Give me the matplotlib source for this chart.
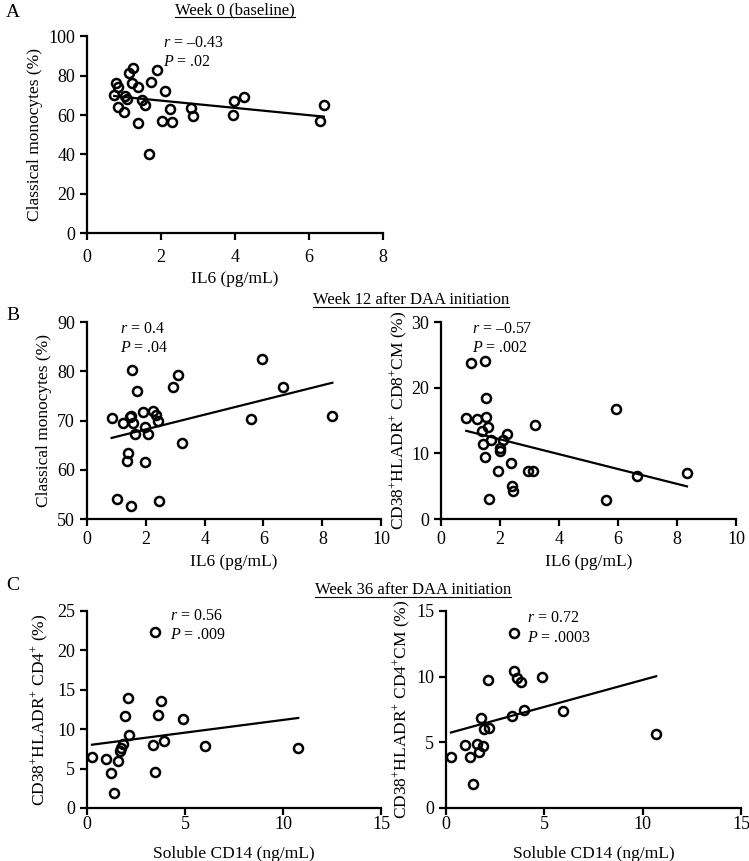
import numpy as np
import matplotlib
matplotlib.use("Agg")
import matplotlib.pyplot as plt
from matplotlib.lines import Line2D

plt.rcParams['font.family'] = ['Liberation Serif', 'DejaVu Serif']
plt.rcParams['mathtext.fontset'] = 'custom'
plt.rcParams['mathtext.rm'] = 'Liberation Serif'
plt.rcParams['mathtext.it'] = 'Liberation Serif:italic'
plt.rcParams['font.size'] = 12.5

# Week 0 (baseline): IL6 vs classical monocytes
wk0_il6 = [1.24, 1.15, 1.89, 0.79, 0.83, 1.23, 1.39, 1.74, 2.10, 0.74, 1.02, 1.08,
           1.49, 1.58, 0.83, 1.01, 1.39, 2.03, 2.30, 2.25, 2.81, 2.86, 1.69,
           3.97, 3.95, 4.26, 6.31, 6.41]
wk0_mono = [83.9, 81.1, 82.8, 76.0, 74.3, 76.0, 74.0, 76.8, 72.1, 70.1, 69.7, 67.9,
            67.6, 65.0, 64.2, 61.6, 56.1, 56.9, 56.6, 63.0, 63.4, 59.5, 40.0,
            67.2, 60.0, 69.1, 56.9, 65.0]

# Week 12 after DAA initiation
wk12_il6_a = [0.84, 1.01, 1.23, 1.37, 1.41, 1.45, 1.49, 1.50, 1.52, 1.56, 1.62, 1.69, 1.92,
              1.97, 1.98, 2.09, 2.24, 2.34, 2.40, 2.45, 2.92, 3.09, 3.22, 5.59, 5.94, 6.65, 8.34]
wk12_mono = [70.5, 54.0, 69.6, 61.8, 63.5, 70.8, 52.7, 71.0, 80.3, 69.6, 67.2, 76.1, 71.7,
             61.6, 68.7, 67.3, 71.9, 71.1, 70.0, 53.7, 76.9, 79.2, 65.5, 70.4, 82.5, 76.9, 71.0]
wk12_il6_b = [0.85, 1.01, 1.23, 1.37, 1.41, 1.48, 1.48, 1.51, 1.53, 1.58, 1.62, 1.69, 1.92,
              1.98, 2.01, 2.09, 2.24, 2.36, 2.40, 2.45, 2.94, 3.10, 3.19, 5.58, 5.92, 6.62, 8.33]
wk12_cd8cm = [15.4, 23.7, 15.2, 13.4, 11.4, 24.1, 9.5, 18.5, 15.6, 14.0, 3.0, 12.1, 7.4,
              10.8, 10.3, 12.0, 13.0, 8.6, 5.1, 4.3, 7.4, 7.4, 14.4, 2.9, 16.7, 6.6, 7.1]

# Week 36 after DAA initiation
wk36_scd14_a = [0.26, 0.97, 1.24, 1.38, 1.60, 1.70, 1.75, 1.84, 1.95, 2.12, 2.17, 3.37, 3.45,
                3.48, 3.62, 3.79, 3.94, 4.90, 6.04, 10.77]
wk36_cd4 = [6.5, 6.2, 4.4, 1.9, 6.0, 7.2, 7.6, 8.1, 11.7, 13.9, 9.2, 8.0, 4.6,
            22.3, 11.8, 13.6, 8.5, 11.3, 7.8, 7.6]
wk36_scd14_b = [0.25, 0.97, 1.22, 1.37, 1.58, 1.69, 1.76, 1.86, 1.93, 2.12, 2.19, 3.37, 3.46,
                3.46, 3.59, 3.81, 3.95, 4.90, 5.97, 10.68]
wk36_cd4cm = [3.85, 4.76, 3.85, 1.80, 4.86, 4.23, 6.87, 4.71, 6.03, 9.73, 6.11, 7.02, 13.28,
              10.39, 9.86, 9.60, 7.45, 9.98, 7.40, 5.65]


def scatter_panel(ax, x, y, xlim, xticks, ylim, yticks, xlabel, ylabel, stats, stat_pos):
    ax.plot(x, y, 'o', mfc='none', mec='black', ms=6.5, mew=1.8, zorder=3)
    slope, icpt = np.polyfit(x, y, 1)
    xs = np.array([min(x), max(x)])
    ax.plot(xs, slope * xs + icpt, color='black', lw=1.6, zorder=2)
    ax.set_xlim(xlim)
    ax.set_ylim(ylim)
    ax.set_xticks(xticks)
    ax.set_yticks(yticks)
    ax.set_xlabel(xlabel, fontsize=12.5)
    ax.set_ylabel(ylabel, fontsize=12.5)
    for s in ['top', 'right']:
        ax.spines[s].set_visible(False)
    for s in ['left', 'bottom']:
        ax.spines[s].set_linewidth(1.6)
    ax.tick_params(width=1.6, length=5, labelsize=13)
    ax.set_facecolor('none')
    ax.text(stat_pos[0], stat_pos[1], stats[0], transform=ax.transAxes, va='center', ha='left', fontsize=11.5)
    ax.text(stat_pos[0], stat_pos[1] - 0.097, stats[1], transform=ax.transAxes, va='center', ha='left', fontsize=11.5)


fig = plt.figure(figsize=(7.49, 8.61), dpi=100)

ax_a = fig.add_axes([0.116, 0.729, 0.395, 0.229])
scatter_panel(ax_a, wk0_il6, wk0_mono, (0, 8), [0, 2, 4, 6, 8], (0, 100), range(0, 101, 20),
              'IL6 (pg/mL)', 'Classical monocytes (%)',
              ['$r$ = \u20130.43', '$P$ = .02'], (0.257, 0.966))
ax_a.tick_params(axis='x', pad=6)

ax_b1 = fig.add_axes([0.116, 0.397, 0.393, 0.229])
scatter_panel(ax_b1, wk12_il6_a, wk12_mono, (0, 10), [0, 2, 4, 6, 8, 10], (50, 90), range(50, 91, 10),
              'IL6 (pg/mL)', 'Classical monocytes (%)',
              ['$r$ = 0.4', '$P$ = .04'], (0.112, 0.964))

ax_b2 = fig.add_axes([0.589, 0.397, 0.394, 0.229])
scatter_panel(ax_b2, wk12_il6_b, wk12_cd8cm, (0, 10), [0, 2, 4, 6, 8, 10], (0, 30), range(0, 31, 10),
              'IL6 (pg/mL)', 'CD38$^{+}$HLADR$^{+}$ CD8$^{+}$CM (%)',
              ['$r$ = \u20130.57', '$P$ = .002'], (0.105, 0.964))
ax_b2.yaxis.labelpad = 1

ax_c1 = fig.add_axes([0.116, 0.0616, 0.393, 0.229])
scatter_panel(ax_c1, wk36_scd14_a, wk36_cd4, (0, 15), [0, 5, 10, 15], (0, 25), range(0, 26, 5),
              'Soluble CD14 (ng/mL)', 'CD38$^{+}$HLADR$^{+}$ CD4$^{+}$ (%)',
              ['$r$ = 0.56', '$P$ = .009'], (0.283, 0.973))

ax_c2 = fig.add_axes([0.5955, 0.0616, 0.394, 0.229])
scatter_panel(ax_c2, wk36_scd14_b, wk36_cd4cm, (0, 15), [0, 5, 10, 15], (0, 15), range(0, 16, 5),
              'Soluble CD14 (ng/mL)', 'CD38$^{+}$HLADR$^{+}$ CD4$^{+}$CM (%)',
              ['$r$ = 0.72', '$P$ = .0003'], (0.274, 0.961))
ax_c2.yaxis.labelpad = 2

for ax in [ax_c1, ax_c2]:
    ax.tick_params(axis='x', pad=1)
    ax.xaxis.labelpad = 9

# panel letters
fig.text(0.008, 0.985, 'A', fontsize=14, va='center')
fig.text(0.008, 0.634, 'B', fontsize=14, va='center')
fig.text(0.008, 1 - 585 / 861, 'C', fontsize=14, va='center')

# underlined section titles
titles = [(235 / 749, 1 - 10 / 861, 'Week 0 (baseline)'),
          (411 / 749, 1 - 300 / 861, 'Week 12 after DAA initiation'),
          (413 / 749, 1 - 590 / 861, 'Week 36 after DAA initiation')]
fig.canvas.draw()
renderer = fig.canvas.get_renderer()
for tx, ty, label in titles:
    t = fig.text(tx, ty, label, ha='center', va='center', fontsize=12)
    bb = t.get_window_extent(renderer).transformed(fig.transFigure.inverted())
    fig.add_artist(Line2D([bb.x0, bb.x1], [bb.y0 + 0.001, bb.y0 + 0.001],
                          color='black', lw=0.8, transform=fig.transFigure))

fig.savefig('out.png', dpi=100, facecolor='white')
